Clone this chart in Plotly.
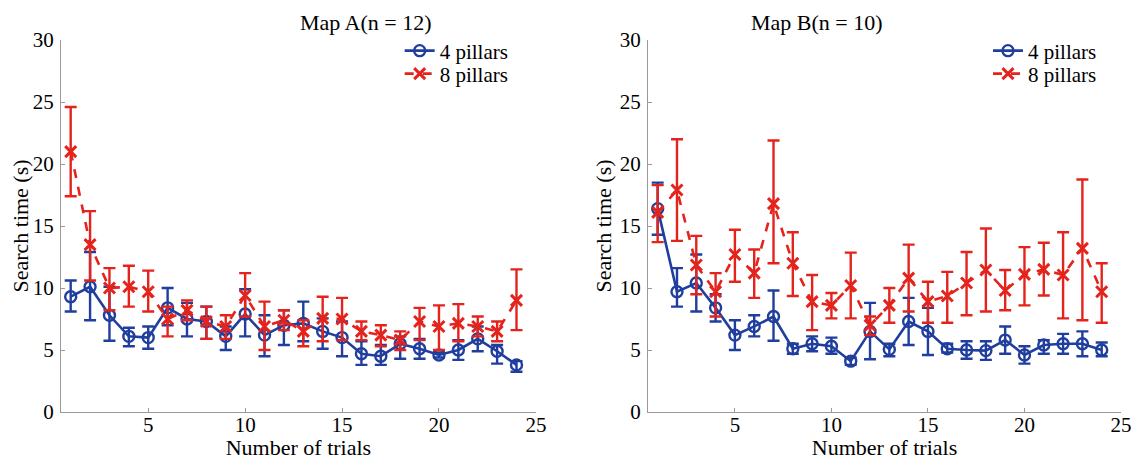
import plotly.graph_objects as go

trials = list(range(1, 25))

# Map A (n = 12)
a4_mean = [9.3, 10.1, 7.8, 6.1, 6.0, 8.4, 7.5, 7.3, 6.1, 7.9, 6.2, 7.0, 7.15, 6.5, 6.0, 4.7, 4.5, 5.5, 5.1, 4.6, 5.0, 5.9, 4.9, 3.8]
a4_up = [10.6, 12.9, 10.1, 6.8, 6.9, 10.0, 8.8, 8.5, 6.9, 9.9, 7.8, 8.2, 8.9, 7.55, 7.3, 5.7, 5.4, 6.1, 5.9, 4.8, 5.8, 6.9, 5.4, 4.1]
a4_low = [8.1, 7.4, 5.75, 5.3, 5.1, 7.0, 6.1, 5.9, 5.0, 6.1, 4.5, 5.4, 5.7, 5.1, 4.5, 3.8, 3.8, 4.3, 4.3, 4.4, 4.2, 4.9, 3.9, 3.25]
a8_mean = [21.0, 13.5, 10.0, 10.1, 9.7, 7.5, 8.2, 7.3, 6.9, 9.4, 6.9, 7.4, 6.5, 7.55, 7.5, 6.5, 6.2, 5.8, 7.3, 6.9, 7.15, 6.9, 6.5, 9.0]
a8_up = [24.6, 16.2, 11.6, 11.8, 11.4, 8.5, 9.0, 8.5, 7.8, 11.2, 8.9, 8.2, 7.4, 9.3, 9.2, 7.3, 7.0, 6.5, 8.4, 8.6, 8.7, 7.7, 7.3, 11.5]
a8_low = [17.4, 10.6, 8.2, 8.5, 8.1, 6.1, 7.4, 5.9, 5.9, 7.7, 5.0, 6.6, 5.3, 5.7, 5.8, 5.8, 5.3, 5.0, 5.8, 5.0, 5.7, 6.1, 5.7, 6.6]

# Map B (n = 10)
b4_mean = [16.4, 9.7, 10.4, 8.4, 6.2, 6.9, 7.7, 5.1, 5.5, 5.3, 4.1, 6.5, 5.05, 7.3, 6.5, 5.1, 5.0, 4.95, 5.8, 4.6, 5.4, 5.5, 5.5, 5.0]
b4_up = [18.5, 11.6, 12.7, 9.5, 7.4, 7.8, 9.8, 5.5, 6.1, 6.0, 4.4, 8.8, 5.5, 9.2, 8.4, 5.5, 5.7, 5.7, 6.9, 5.3, 5.8, 6.3, 6.5, 5.6]
b4_low = [14.3, 8.5, 8.1, 7.3, 5.0, 6.1, 5.75, 4.7, 4.9, 4.7, 3.8, 4.25, 4.5, 5.4, 4.6, 4.8, 4.3, 4.2, 4.7, 3.9, 4.7, 4.7, 4.5, 4.5]
b8_mean = [16.1, 17.9, 11.85, 9.7, 12.7, 11.2, 16.8, 12.0, 8.9, 8.6, 10.2, 7.0, 8.6, 10.8, 8.9, 9.35, 10.4, 11.45, 9.8, 11.1, 11.5, 11.05, 13.2, 9.7]
b8_up = [18.3, 22.0, 14.2, 11.2, 14.7, 13.1, 21.9, 14.5, 11.05, 9.6, 12.85, 7.7, 10.0, 13.5, 10.5, 11.3, 12.9, 14.8, 11.45, 13.3, 13.65, 14.5, 18.75, 12.0]
b8_low = [13.7, 13.8, 9.5, 7.7, 10.5, 9.2, 12.0, 9.35, 6.6, 7.55, 7.55, 6.2, 7.2, 8.1, 7.2, 7.2, 7.8, 8.1, 8.2, 8.6, 9.4, 7.55, 7.4, 7.2]

panel_titles = ["Map A(n = 12)", "Map B(n = 10)"]
series_names = ["4 pillars", "8 pillars"]

BLUE = "#1f3e9e"
RED = "#e5231d"
FONT = "'Liberation Serif', 'Times New Roman', Times, 'DejaVu Serif', serif"

fig = go.Figure()


def add_series(x, mean, up, low, name, color, dash, symbol, xa, ya, legend):
    plus = [u - m for u, m in zip(up, mean)]
    minus = [m - l for m, l in zip(mean, low)]
    is_blue = color == BLUE
    fig.add_trace(go.Scatter(
        x=x, y=mean, name=name, mode="lines+markers", showlegend=True,
        xaxis=xa, yaxis=ya, legend=legend,
        line=dict(color=color, width=2.6, dash=dash),
        marker=dict(symbol=symbol, size=11, color=color,
                    line=dict(color=color, width=2.4 if is_blue else 3)),
        error_y=dict(type="data", symmetric=False, array=plus, arrayminus=minus,
                     color=color, thickness=2.4, width=6),
    ))


add_series(trials, a4_mean, a4_up, a4_low, series_names[0], BLUE, "solid", "circle-open", "x", "y", "legend")
add_series(trials, a8_mean, a8_up, a8_low, series_names[1], RED, "dash", "x-thin-open", "x", "y", "legend2")
add_series(trials, b4_mean, b4_up, b4_low, series_names[0], BLUE, "solid", "circle-open", "x2", "y2", "legend3")
add_series(trials, b8_mean, b8_up, b8_low, series_names[1], RED, "dash", "x-thin-open", "x2", "y2", "legend4")

axis_common = dict(
    showline=True, linecolor="#9a9a9a", linewidth=1, mirror=False, automargin=False,
    ticks="inside", ticklen=4, tickcolor="#9a9a9a", showgrid=False, zeroline=False,
    tickfont=dict(family=FONT, size=21, color="black"),
)
xcommon = dict(axis_common, range=[0.5, 25], tickvals=[5, 10, 15, 20, 25], ticklabelstandoff=-6,
               title=dict(text="Number of trials", font=dict(family=FONT, size=22, color="black"), standoff=0))
ycommon = dict(axis_common, range=[0, 30], tickvals=[0, 5, 10, 15, 20, 25, 30], ticklabelstandoff=2,
               title=dict(text="Search time (s)", font=dict(family=FONT, size=22, color="black"), standoff=2))

left_dom = [0.0, 0.448]
right_dom = [0.5538, 1.0]

leg_common = dict(font=dict(family=FONT, size=21, color="black"), bgcolor="rgba(0,0,0,0)",
                  xanchor="left", yanchor="middle", tracegroupgap=0, itemwidth=30)
row1_y = 0.9704
row2_y = 0.9086
left_leg_x = 0.3195
right_leg_x = 0.8745

fig.update_layout(
    width=1137, height=452, showlegend=True,
    font=dict(family=FONT),
    margin=dict(l=53, r=24, t=32, b=48, autoexpand=False),
    paper_bgcolor="white", plot_bgcolor="white",
    xaxis=dict(xcommon, domain=left_dom, anchor="y"),
    yaxis=dict(ycommon, domain=[0, 1], anchor="x"),
    xaxis2=dict(xcommon, domain=right_dom, anchor="y2"),
    yaxis2=dict(ycommon, domain=[0, 1], anchor="x2"),
    legend=dict(leg_common, x=left_leg_x, y=row1_y, visible=True),
    legend2=dict(leg_common, x=left_leg_x, y=row2_y, visible=True),
    legend3=dict(leg_common, x=right_leg_x, y=row1_y, visible=True),
    legend4=dict(leg_common, x=right_leg_x, y=row2_y, visible=True),
    annotations=[
        dict(text=panel_titles[0], x=sum(left_dom) / 2, y=1.0, xref="paper", yref="paper",
             yanchor="bottom", yshift=3, showarrow=False, font=dict(family=FONT, size=22, color="black")),
        dict(text=panel_titles[1], x=sum(right_dom) / 2, y=1.0, xref="paper", yref="paper",
             yanchor="bottom", yshift=3, showarrow=False, font=dict(family=FONT, size=22, color="black")),
    ],
)

fig.write_html("out.html")
